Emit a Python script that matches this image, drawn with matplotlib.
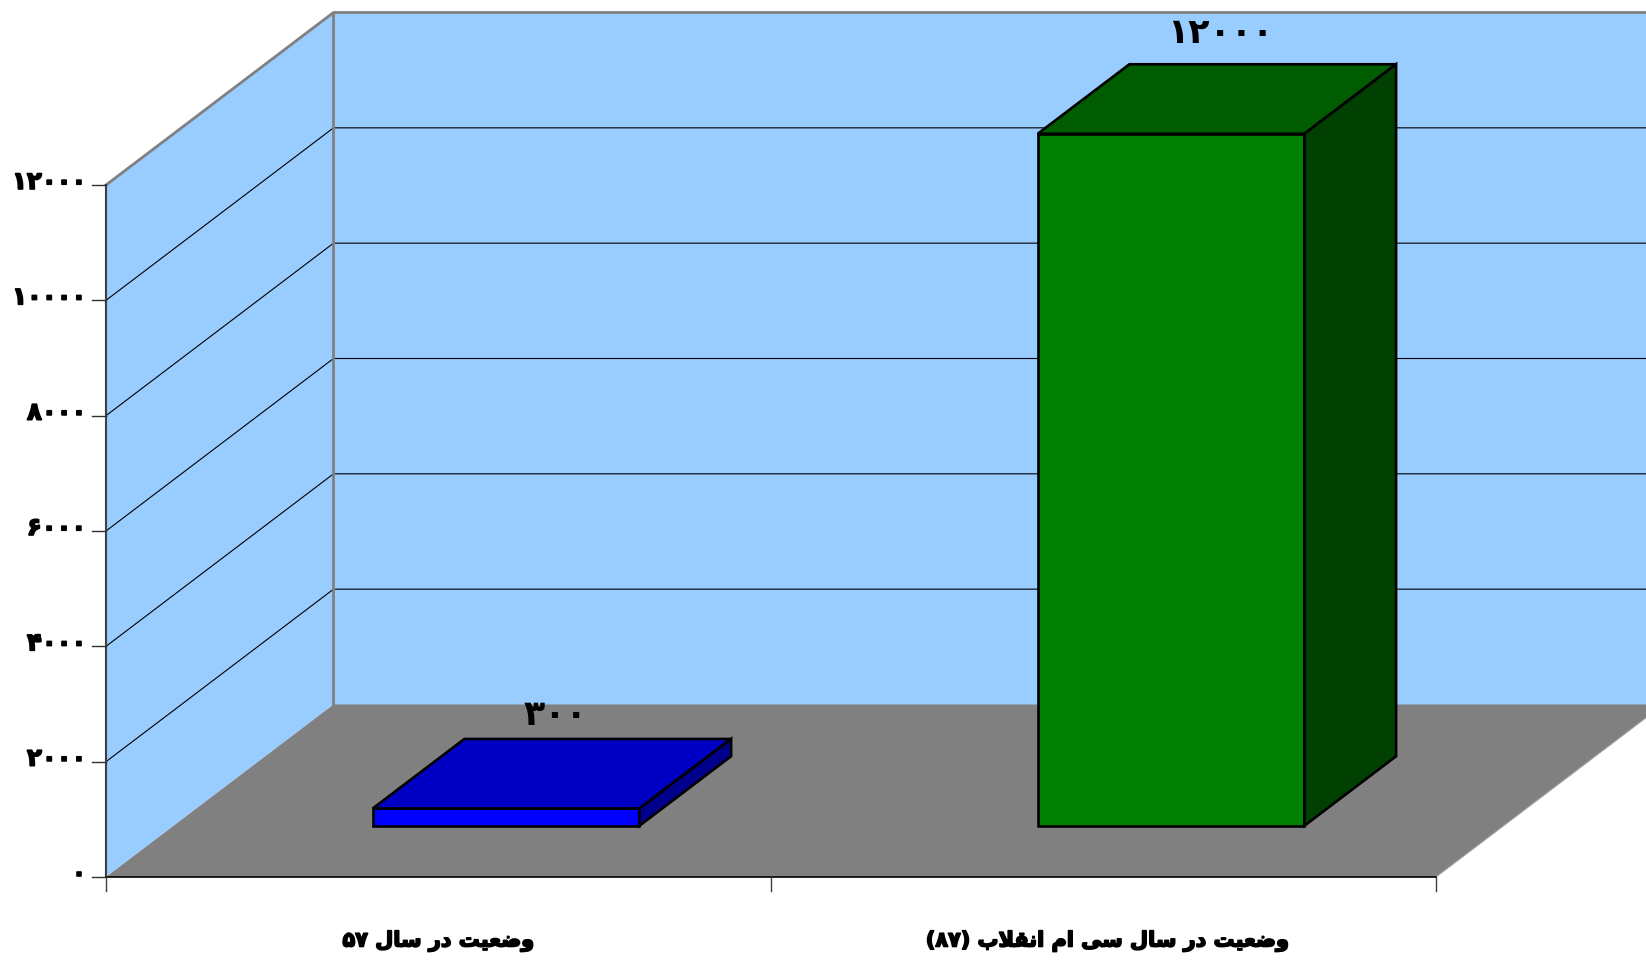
import re
import matplotlib
matplotlib.use('Agg')
import matplotlib.pyplot as plt
import matplotlib.patheffects as pe
from matplotlib.patches import Polygon

categories = ['وضعیت در سال ۵۷', 'وضعیت در سال سی ام انقلاب (۸۷)']
values = [300, 12000]
tick_values = [0, 2000, 4000, 6000, 8000, 10000, 12000]
bar_colors = [('#0000FF', '#0000C4', '#00008C'), ('#008000', '#005C00', '#004000')]

# pixel layout of the fake 3d box
X0, Y0 = 106, 877
CAT_W = 665
PX_PER_VAL = 692 / 12000
DEPTH_X, DEPTH_Y = 227.5, 172.5
BAR_W = 0.401
DEPTH_FRONT, DEPTH_BACK = 0.297, 0.7
LABEL_DY = [24, 31]

FORMS = {
    'ا': (0xFE8D, 0xFE8E), 'د': (0xFEA9, 0xFEAA), 'ر': (0xFEAD, 0xFEAE), 'و': (0xFEED, 0xFEEE),
    'ب': (0xFE8F, 0xFE90, 0xFE91, 0xFE92), 'ت': (0xFE95, 0xFE96, 0xFE97, 0xFE98),
    'س': (0xFEB1, 0xFEB2, 0xFEB3, 0xFEB4), 'ض': (0xFEBD, 0xFEBE, 0xFEBF, 0xFEC0),
    'ع': (0xFEC9, 0xFECA, 0xFECB, 0xFECC), 'ق': (0xFED5, 0xFED6, 0xFED7, 0xFED8),
    'ل': (0xFEDD, 0xFEDE, 0xFEDF, 0xFEE0), 'م': (0xFEE1, 0xFEE2, 0xFEE3, 0xFEE4),
    'ن': (0xFEE5, 0xFEE6, 0xFEE7, 0xFEE8), 'ی': (0xFBFC, 0xFBFD, 0xFBFE, 0xFBFF),
}


def shape(text):
    # matplotlib does no arabic shaping, so pick the forms and lay it out left to right
    out = []
    i = 0
    while i < len(text):
        c = text[i]
        if c not in FORMS:
            out.append({'(': ')', ')': '('}.get(c, c))
            i += 1
            continue
        prev = text[i - 1] if i > 0 else ''
        joined_before = prev in FORMS and len(FORMS[prev]) == 4
        if c == 'ل' and text[i + 1:i + 2] == 'ا':
            out.append(chr(0xFEFC if joined_before else 0xFEFB))
            i += 2
            continue
        nxt = text[i + 1] if i + 1 < len(text) else ''
        joined_after = len(FORMS[c]) == 4 and nxt in FORMS
        if joined_before and joined_after:
            out.append(chr(FORMS[c][3]))
        elif joined_before:
            out.append(chr(FORMS[c][1]))
        elif joined_after:
            out.append(chr(FORMS[c][2]))
        else:
            out.append(chr(FORMS[c][0]))
        i += 1
    visual = ''.join(reversed(out))
    # digit runs keep their order
    return re.sub('[۰-۹]+', lambda m: m.group(0)[::-1], visual)


def fa_num(n):
    return str(n).translate(str.maketrans('0123456789', '۰۱۲۳۴۵۶۷۸۹'))


def project(cat, val, depth):
    return (X0 + cat * CAT_W + depth * DEPTH_X, Y0 - val * PX_PER_VAL - depth * DEPTH_Y)


def poly(ax, points, color, edge='none', lw=0, z=1):
    patch = Polygon([project(*p) for p in points], closed=True, facecolor=color,
                    edgecolor=edge, linewidth=lw, joinstyle='miter', zorder=z)
    ax.add_patch(patch)
    return patch


def draw_bar(ax, center, value, colors):
    left, right = center - BAR_W / 2, center + BAR_W / 2
    d0, d1 = DEPTH_FRONT, DEPTH_BACK
    poly(ax, [(left, 0, d0), (right, 0, d0), (right, value, d0), (left, value, d0)], colors[0], 'black', 1.9, 5)
    poly(ax, [(left, value, d0), (right, value, d0), (right, value, d1), (left, value, d1)], colors[1], 'black', 1.9, 5)
    poly(ax, [(right, 0, d0), (right, 0, d1), (right, value, d1), (right, value, d0)], colors[2], 'black', 1.9, 5)


def main():
    fig = plt.figure(figsize=(16.46, 9.6), dpi=100)
    ax = fig.add_axes([0, 0, 1, 1])
    ax.set_xlim(0, 1646)
    ax.set_ylim(960, 0)
    ax.axis('off')
    heavy = [pe.withStroke(linewidth=1.2, foreground='black')]

    top = tick_values[-1]
    # walls and floor
    back = poly(ax, [(0, 0, 1), (3, 0, 1), (3, top, 1), (0, top, 1)], '#99CCFF', z=1)
    poly(ax, [(0, 0, 0), (0, 0, 1), (0, top, 1), (0, top, 0)], '#99CCFF', z=1)
    poly(ax, [(0, 0, 0), (2, 0, 0), (2, 0, 1), (0, 0, 1)], '#808080', z=2)

    # gridlines
    for v in tick_values[1:-1]:
        xs, ys = zip(project(0, v, 0), project(0, v, 1), project(3, v, 1))
        ax.plot(xs, ys, color='black', lw=0.8, zorder=3)

    # wall borders
    xs, ys = zip(project(0, top, 0), project(0, top, 1), project(3, top, 1))
    ax.plot(xs, ys, color='#808080', lw=2, zorder=6)
    xs, ys = zip(project(0, 0, 1), project(0, top, 1))
    ax.plot(xs, ys, color='#808080', lw=2, zorder=3)
    xs, ys = zip(project(2, 0, 0), project(2, 0, 1))
    ax.plot(xs, ys, color='#A0A0A0', lw=0.8, zorder=3)

    # axes lines and ticks
    xs, ys = zip(project(0, 0, 0), project(0, top, 0))
    ax.plot(xs, ys, color='#404040', lw=1.5, zorder=6)
    xs, ys = zip(project(0, 0, 0), project(2, 0, 0))
    ax.plot(xs, ys, color='black', lw=1.2, zorder=6)
    for v in tick_values:
        x, y = project(0, v, 0)
        ax.plot([x - 14, x], [y, y], color='#303030', lw=1, zorder=6)
        ax.text(x - 20, y - 3, fa_num(v), ha='right', va='center', family='DejaVu Sans',
                fontweight='bold', fontsize=17.5, color='black', zorder=7, path_effects=heavy)
    for c in range(len(categories) + 1):
        x, y = project(c, 0, 0)
        ax.plot([x, x], [y, y + 14], color='#404040', lw=1, zorder=6)

    for i, (cat, val) in enumerate(zip(categories, values)):
        draw_bar(ax, i + 0.5, val, bar_colors[i])
        x, y = project(i + 0.5, 0, 0)
        ax.text(x + i * 4, 941, shape(cat), ha='center', va='center', family='DejaVu Sans',
                fontweight='bold', fontsize=15, color='black', zorder=7, path_effects=heavy)
        lx, ly = project(i + 0.5, val, 0.5)
        by = project(i + 0.5, val, DEPTH_BACK)[1]
        label = ax.text(lx + 3, by - LABEL_DY[i], fa_num(val), ha='center', va='center', family='DejaVu Sans',
                        fontweight='bold', fontsize=25, color='black', zorder=5)
        label.set_clip_path(back)

    fig.savefig('out.png', dpi=100)


if __name__ == "__main__":
    main()
